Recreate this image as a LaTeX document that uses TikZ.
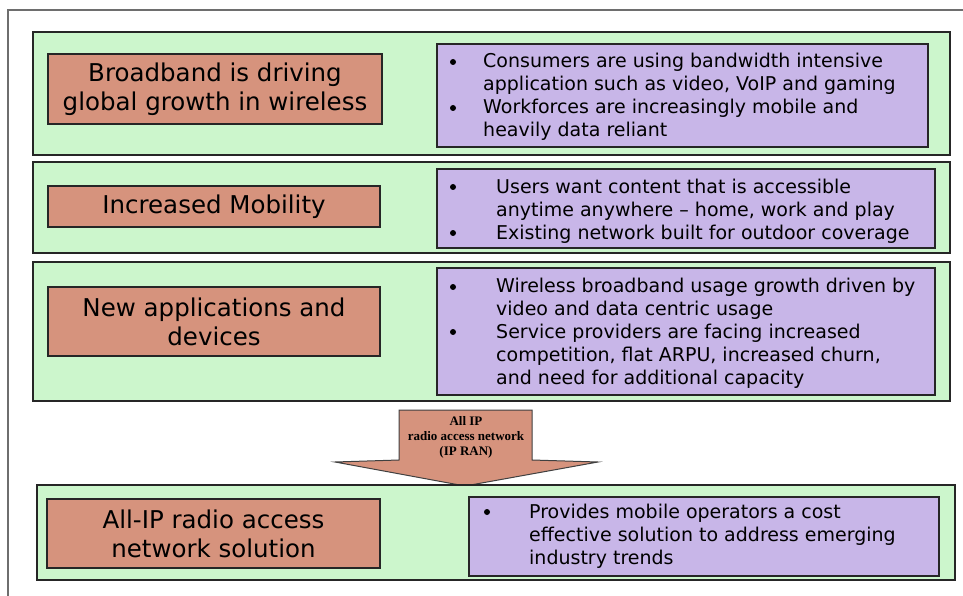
\documentclass[tikz,border=0pt]{standalone}
\usepackage{fontspec}
\setmainfont{DejaVu Sans}
\newfontfamily\arrowfont{Liberation Serif}
\usetikzlibrary{positioning}
\definecolor{panelgreen}{RGB}{204,246,204}
\definecolor{causered}{RGB}{214,147,125}
\definecolor{notepurple}{RGB}{200,182,232}
\definecolor{framegray}{RGB}{110,110,110}
\tikzset{
  panel/.style={draw=black!85,line width=1.3pt,fill=panelgreen},
  causebox/.style={draw=black!85,line width=1.5pt,fill=causered,align=center,inner sep=0pt,
    font=\fontsize{24.5}{29}\selectfont},
  notebox/.style={draw=black!85,line width=1.3pt,fill=notepurple},
  notetext/.style={anchor=west,align=left,inner sep=0pt,font=\fontsize{19}{23}\selectfont},
  bulletdot/.style={circle,fill=black,inner sep=0pt,minimum size=6pt},
  arrowshape/.style={draw=black!75,line width=1pt,fill=causered},
  arrowtext/.style={align=center,inner sep=0pt,font=\arrowfont\bfseries\fontsize{13}{15}\selectfont},
}

\begin{document}
\begin{tikzpicture}[x=1pt,y=-1pt]
\useasboundingbox (0,0) rectangle (963,596);
% outer frame
\draw[framegray,line width=1.2pt] (8,596) -- (8,10) -- (963,10);

% row 1
\draw[panel] (33,32) rectangle (950,155);
\node[causebox,minimum width=334,minimum height=70] (broadband) at (215,89)
  {Broadband is driving\\global growth in wireless};
\draw[notebox] (437,44) rectangle (928,147);
\node[bulletdot] (b1a) at (453,62) {};
\node[bulletdot] (b1b) at (453,108) {};
\node[notetext] (note1) at (483,96.5)
  {Consumers are using bandwidth intensive\\application such as video, VoIP and gaming\\Workforces are increasingly mobile and\\heavily data reliant};

% row 2
\draw[panel] (33,162) rectangle (950,253);
\node[causebox,minimum width=332,minimum height=41] (mobility) at (214,206.5)
  {Increased Mobility};
\draw[notebox] (437,169) rectangle (935,248);
\node[bulletdot] (b2a) at (453,187) {};
\node[bulletdot] (b2b) at (453,233) {};
\node[notetext] (note2) at (496,211)
  {Users want content that is accessible\\anytime anywhere -- home, work and play\\Existing network built for outdoor coverage};

% row 3
\draw[panel] (33,262) rectangle (950,401);
\node[causebox,minimum width=332,minimum height=69] (newapps) at (214,321.5)
  {New applications and\\devices};
\draw[notebox] (437,268) rectangle (935,395);
\node[bulletdot] (b3a) at (453,287) {};
\node[bulletdot] (b3b) at (453,332) {};
\node[notetext] (note3) at (496,333)
  {Wireless broadband usage growth driven by\\video and data centric usage\\Service providers are facing increased\\competition, flat ARPU, increased churn,\\and need for additional capacity};

% arrow
\draw[arrowshape] (399,410) -- (532,410) -- (532,460) -- (598,462) -- (465,486)
  -- (335,462) -- (399,460) -- cycle;
\node[arrowtext] (ipran) at (466,437) {All IP\\radio access network\\(IP RAN)};

% row 4
\draw[panel] (37,485) rectangle (955,580);
\node[causebox,minimum width=333,minimum height=69] (allip) at (213.5,533.5)
  {All-IP radio access\\network solution};
\draw[notebox] (469,497) rectangle (939,576);
\node[bulletdot] (b4a) at (487,512) {};
\node[notetext] (note4) at (529,536)
  {Provides mobile operators a cost\\effective solution to address emerging\\industry trends};
\end{tikzpicture}
\end{document}
